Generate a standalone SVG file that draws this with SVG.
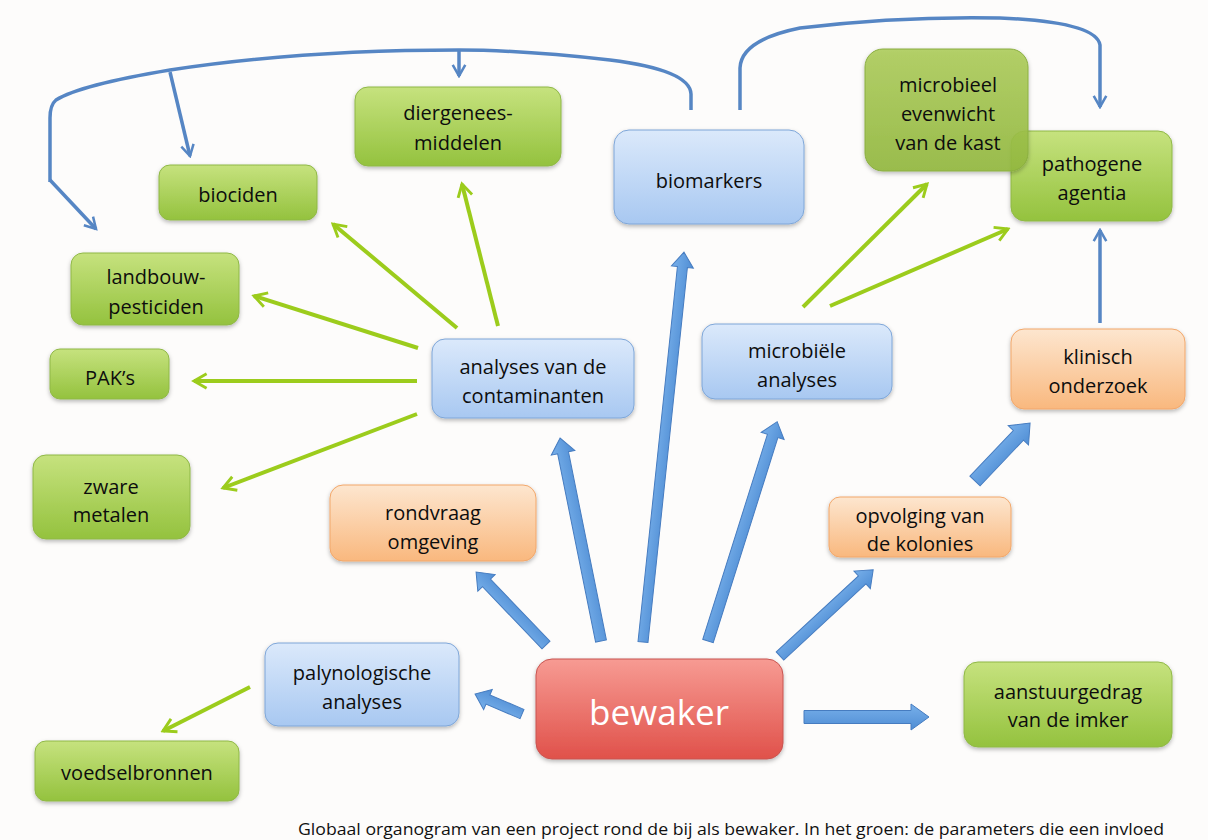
<svg xmlns="http://www.w3.org/2000/svg" width="1208" height="840" viewBox="0 0 1208 840">
<defs>
<linearGradient id="gGreen" x1="0" y1="0" x2="0" y2="1"><stop offset="0" stop-color="#c6e27e"/><stop offset="1" stop-color="#94c23e"/></linearGradient>
<linearGradient id="gGreenD" x1="0" y1="0" x2="0" y2="1"><stop offset="0" stop-color="#aecd5c"/><stop offset="1" stop-color="#93b93f"/></linearGradient>
<linearGradient id="gBlue" x1="0" y1="0" x2="0" y2="1"><stop offset="0" stop-color="#dbe9fb"/><stop offset="1" stop-color="#a8c8f1"/></linearGradient>
<linearGradient id="gOrange" x1="0" y1="0" x2="0" y2="1"><stop offset="0" stop-color="#fde6cf"/><stop offset="1" stop-color="#f9b87e"/></linearGradient>
<linearGradient id="gRed" x1="0" y1="0" x2="0" y2="1"><stop offset="0" stop-color="#f79b93"/><stop offset="1" stop-color="#e0514a"/></linearGradient>
<linearGradient id="gArrow" x1="0" y1="0" x2="0" y2="1"><stop offset="0" stop-color="#78b0ea"/><stop offset="1" stop-color="#4f8dd4"/></linearGradient>
<filter id="sh" x="-10%" y="-10%" width="120%" height="130%"><feDropShadow dx="0" dy="2" stdDeviation="2" flood-color="#000" flood-opacity="0.28"/></filter>
<marker id="mGreen" viewBox="0 0 10 10" refX="8.5" refY="5" markerWidth="4.5" markerHeight="4.5" orient="auto" markerUnits="strokeWidth"><path d="M1.5,1 L8.5,5 L1.5,9" fill="none" stroke="#9ccc1c" stroke-width="1.6" stroke-linejoin="miter"/></marker>
<marker id="mBlue" viewBox="0 0 10 10" refX="8.5" refY="5" markerWidth="4.5" markerHeight="4.5" orient="auto" markerUnits="strokeWidth"><path d="M1.5,1 L8.5,5 L1.5,9" fill="none" stroke="#5686c4" stroke-width="1.6"/></marker>
</defs>
<style>
.n{filter:url(#sh);stroke-width:1}
.green{fill:url(#gGreen);stroke:#8fb846}
.greend{fill:url(#gGreenD);stroke:#8aae40;fill-opacity:0.9}
.blue{fill:url(#gBlue);stroke:#7ea6d8}
.orange{fill:url(#gOrange);stroke:#f2a76a}
.red{fill:url(#gRed);stroke:#c85450}
.t{font-family:"Open Sans","Liberation Sans",sans-serif;font-size:20px;fill:#0d0d0d;text-anchor:middle}
.tw{font-family:"Open Sans","Liberation Sans",sans-serif;font-size:35px;fill:#fff;text-anchor:middle}
.cap{font-family:"Open Sans","Liberation Sans",sans-serif;font-size:16px;fill:#111}
.gl{stroke:#9ccc1c;stroke-width:4;fill:none;marker-end:url(#mGreen)}
.bl{stroke:#5686c4;stroke-width:3.5;fill:none}
.blm{marker-end:url(#mBlue)}
.ba{fill:url(#gArrow);stroke:#467cc0;stroke-width:1}
</style>
<rect x="0" y="0" width="1208" height="840" fill="#fdfcfb"/>

<g id="connectors">
<path class="bl" d="M691,110 V94 Q690,70 610,60 Q520,50 459,50 Q300,50 170,70 Q80,85 56,100 Q50,105 50,118 V182"/>
<path class="bl blm" d="M50,180 L96,229"/>
<path class="bl blm" d="M459,50 V76"/>
<path class="bl blm" d="M170,72 L190,156"/>
<path class="bl blm" d="M740,110 V68 Q741,40 800,28 Q900,16 1000,18 Q1096,22 1100,45 V107"/>
<path class="bl blm" d="M1100,323 V230"/>
<line class="gl" x1="498" y1="326" x2="462" y2="184"/>
<line class="gl" x1="457" y1="328" x2="333" y2="224"/>
<line class="gl" x1="418" y1="348" x2="254" y2="296"/>
<line class="gl" x1="417" y1="381" x2="194" y2="381"/>
<line class="gl" x1="417" y1="414" x2="223" y2="488"/>
<line class="gl" x1="803" y1="307" x2="927" y2="184"/>
<line class="gl" x1="830" y1="306" x2="1008" y2="229"/>
<line class="gl" x1="250" y1="687" x2="163" y2="731"/>
<polygon class="ba" transform="translate(522,714) rotate(-157)" points="0,-5 37,-5 37,-11 51,0 37,11 37,5 0,5"/>
<polygon class="ba" transform="translate(546,645) rotate(-133.8)" points="0,-5.5 86,-5.5 86,-12 101,0 86,12 86,5.5 0,5.5"/>
<polygon class="ba" transform="translate(601,641) rotate(-101.4)" points="0,-5.5 192,-5.5 192,-12 207,0 192,12 192,5.5 0,5.5"/>
<polygon class="ba" transform="translate(643,642) rotate(-84)" points="0,-5 377,-5 377,-11 392,0 377,11 377,5 0,5"/>
<polygon class="ba" transform="translate(708,641) rotate(-72.5)" points="0,-5.5 215,-5.5 215,-12 230,0 215,12 215,5.5 0,5.5"/>
<polygon class="ba" transform="translate(780,656) rotate(-42.8)" points="0,-5.5 112,-5.5 112,-12 127,0 112,12 112,5.5 0,5.5"/>
<polygon class="ba" transform="translate(804,717) rotate(0)" points="0,-6.5 107,-6.5 107,-13 125,0 107,13 107,6.5 0,6.5"/>
<polygon class="ba" transform="translate(975,481) rotate(-46.5)" points="0,-7 63,-7 63,-14 80,0 63,14 63,7 0,7"/>
</g>

<g id="diergeneesmiddelen"><rect class="n green" x="355" y="87" width="206" height="79" rx="13"/><text class="t" x="458" y="120">diergenees-</text><text class="t" x="458" y="150">middelen</text></g>
<g id="biociden"><rect class="n green" x="159" y="165" width="158" height="55" rx="11"/><text class="t" x="238" y="202">biociden</text></g>
<g id="landbouwpesticiden"><rect class="n green" x="71" y="253" width="168" height="72" rx="12"/><text class="t" x="156" y="284">landbouw-</text><text class="t" x="156" y="314">pesticiden</text></g>
<g id="paks"><rect class="n green" x="50" y="349" width="119" height="50" rx="10"/><text class="t" x="110" y="385">PAK’s</text></g>
<g id="zwaremetalen"><rect class="n green" x="33" y="455" width="157" height="84" rx="13"/><text class="t" x="111" y="494">zware</text><text class="t" x="111" y="522">metalen</text></g>
<g id="biomarkers"><rect class="n blue" x="614" y="130" width="190" height="94" rx="15"/><text class="t" x="709" y="188">biomarkers</text></g>
<g id="pathogeneagentia"><rect class="n green" x="1011" y="131" width="161" height="90" rx="14"/><text class="t" x="1092" y="171">pathogene</text><text class="t" x="1092" y="200">agentia</text></g>
<g id="microbieelevenwicht"><rect class="n greend" x="865" y="49" width="163" height="122" rx="18"/><text class="t" x="948" y="92">microbieel</text><text class="t" x="948" y="121">evenwicht</text><text class="t" x="948" y="150">van de kast</text></g>
<g id="contaminanten"><rect class="n blue" x="432" y="339" width="202" height="79" rx="13"/><text class="t" x="533" y="374">analyses van de</text><text class="t" x="533" y="403">contaminanten</text></g>
<g id="microbieleanalyses"><rect class="n blue" x="702" y="324" width="190" height="75" rx="13"/><text class="t" x="797" y="358">microbiële</text><text class="t" x="797" y="387">analyses</text></g>
<g id="klinischonderzoek"><rect class="n orange" x="1011" y="329" width="174" height="80" rx="13"/><text class="t" x="1098" y="364">klinisch</text><text class="t" x="1098" y="393">onderzoek</text></g>
<g id="rondvraagomgeving"><rect class="n orange" x="330" y="485" width="206" height="76" rx="13"/><text class="t" x="433" y="520">rondvraag</text><text class="t" x="433" y="549">omgeving</text></g>
<g id="opvolgingkolonies"><rect class="n orange" x="829" y="497" width="182" height="60" rx="11"/><text class="t" x="920" y="523">opvolging van</text><text class="t" x="920" y="551">de kolonies</text></g>
<g id="palynologischeanalyses"><rect class="n blue" x="265" y="643" width="194" height="83" rx="13"/><text class="t" x="362" y="680">palynologische</text><text class="t" x="362" y="709">analyses</text></g>
<g id="bewaker"><rect class="n red" x="536" y="659" width="247" height="100" rx="16"/><text class="tw" x="659" y="725">bewaker</text></g>
<g id="aanstuurgedrag"><rect class="n green" x="964" y="662" width="208" height="85" rx="14"/><text class="t" x="1068" y="699">aanstuurgedrag</text><text class="t" x="1068" y="727">van de imker</text></g>
<g id="voedselbronnen"><rect class="n green" x="35" y="741" width="204" height="60" rx="11"/><text class="t" x="137" y="780">voedselbronnen</text></g>

<text class="cap" x="298" y="835" textLength="866" lengthAdjust="spacingAndGlyphs">Globaal organogram van een project rond de bij als bewaker. In het groen: de parameters die een invloed</text>
</svg>
